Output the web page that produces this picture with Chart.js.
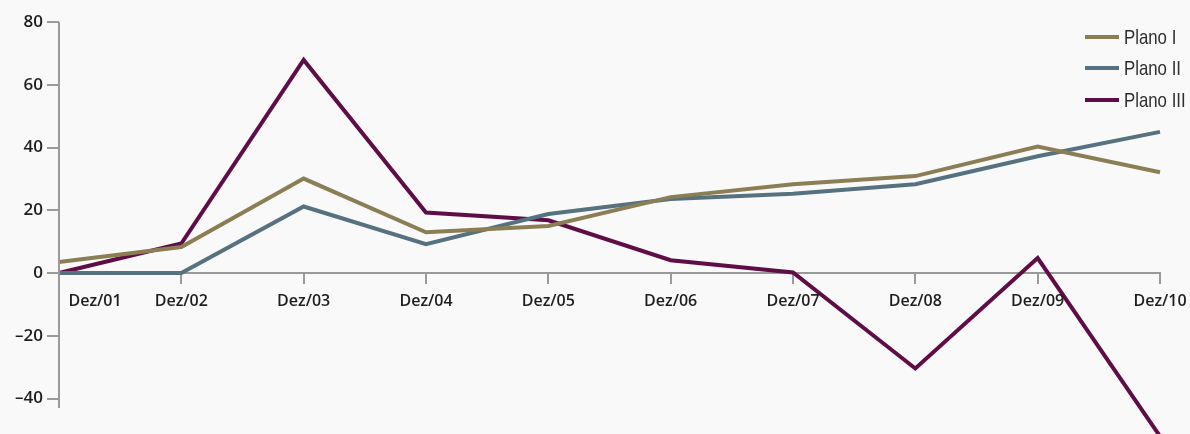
<!DOCTYPE html>
<html>
<head>
<meta charset="utf-8">
<script src="https://cdn.jsdelivr.net/npm/chart.js@4.4.1/dist/chart.umd.min.js"></script>
<style>
  html, body { margin: 0; padding: 0; background: #f9f9f9; }
  #wrap { position: relative; width: 1190px; height: 434px; overflow: hidden; }
  #legend { position: absolute; left: 1085px; top: 21px; font-family: "Liberation Sans", sans-serif; font-size: 21px; color: #2e2e2e; }
  #legend div { display: flex; align-items: center; height: 31.5px; white-space: nowrap; }
  #legend span.sw { display: inline-block; width: 34px; height: 4px; margin-right: 5px; }
  #legend span.tx { display: inline-block; transform: scaleX(0.8); transform-origin: left center; }
</style>
</head>
<body>
<div id="wrap">
  <canvas id="chart" width="1190" height="434"></canvas>
  <div id="legend"></div>
</div>
<script>
// categories and series
const labels = ['Dez/01', 'Dez/02', 'Dez/03', 'Dez/04', 'Dez/05', 'Dez/06', 'Dez/07', 'Dez/08', 'Dez/09', 'Dez/10'];
const planoI   = [3.5, 8.3, 30.1, 13.0, 15.0, 24.2, 28.3, 30.9, 40.3, 32.1];
const planoII  = [0, 0, 21.2, 9.2, 18.8, 23.6, 25.3, 28.3, 37.2, 45.0];
const planoIII = [0, 9.4, 67.9, 19.3, 16.8, 4.1, 0.2, -30.4, 4.8, -52];
const seriesNames = ['Plano I', 'Plano II', 'Plano III'];
const seriesColors = ['#8b7e55', '#56717f', '#5f0d46'];
const yTicks = [80, 60, 40, 20, 0, -20, -40];

const axisColor = '#9a9a9c';
const textColor = '#1e1e1e';

// x labels drawn by hand so the first one can sit clear of the y axis
const xLabelPlugin = {
    id: 'xLabels',
    afterDraw(chart) {
        const ctx = chart.ctx;
        const x = chart.scales.x;
        const y = chart.scales.y;
        const base = y.getPixelForValue(0);
        ctx.save();
        ctx.font = '600 16px "Open Sans", sans-serif';
        ctx.fillStyle = textColor;
        ctx.textAlign = 'center';
        ctx.textBaseline = 'middle';
        labels.forEach((lab, i) => {
            let px = x.getPixelForTick(i);
            if (i === 0) px += 36;
            ctx.fillText(lab, px, base + 28);
        });
        // y axis line stops a little below -40
        ctx.strokeStyle = axisColor;
        ctx.lineWidth = 2;
        ctx.beginPath();
        ctx.moveTo(y.right, y.getPixelForValue(80));
        ctx.lineTo(y.right, y.getPixelForValue(-43));
        ctx.stroke();
        ctx.restore();
    }
};

const datasets = [planoI, planoII, planoIII].map((vals, i) => ({
    label: seriesNames[i],
    data: vals,
    borderColor: seriesColors[i],
    backgroundColor: seriesColors[i],
    borderWidth: 4,
    pointRadius: 0,
    tension: 0,
    clip: false,
    borderJoinStyle: 'miter'
}));

new Chart(document.getElementById('chart'), {
    type: 'line',
    data: { labels: labels, datasets: datasets },
    plugins: [xLabelPlugin],
    options: {
        responsive: false,
        animation: false,
        layout: { padding: { top: 22, right: 30, bottom: 26, left: 0 } },
        plugins: { legend: { display: false }, tooltip: { enabled: false } },
        scales: {
            x: {
                type: 'category',
                position: { y: 0 },
                offset: false,
                grid: { drawOnChartArea: false, tickLength: 10, color: axisColor, lineWidth: 2 },
                border: { color: axisColor, width: 2 },
                ticks: { display: false }
            },
            y: {
                min: -43,
                max: 80,
                afterFit: s => { s.width = 59; },
                afterBuildTicks: s => { s.ticks = yTicks.map(v => ({ value: v })); },
                grid: { drawOnChartArea: false, tickLength: 12, color: axisColor, lineWidth: 2 },
                border: { display: false },
                ticks: {
                    color: textColor,
                    padding: 4,
                    font: { family: '"Open Sans", sans-serif', size: 17, weight: '600' },
                    callback: v => String(v).replace('-', '–')
                }
            }
        }
    }
});

// legend
const legend = document.getElementById('legend');
seriesNames.forEach((name, i) => {
    const row = document.createElement('div');
    row.innerHTML = `<span class="sw" style="background:${seriesColors[i]}"></span><span class="tx">${name}</span>`;
    legend.appendChild(row);
});
</script>
</body>
</html>
